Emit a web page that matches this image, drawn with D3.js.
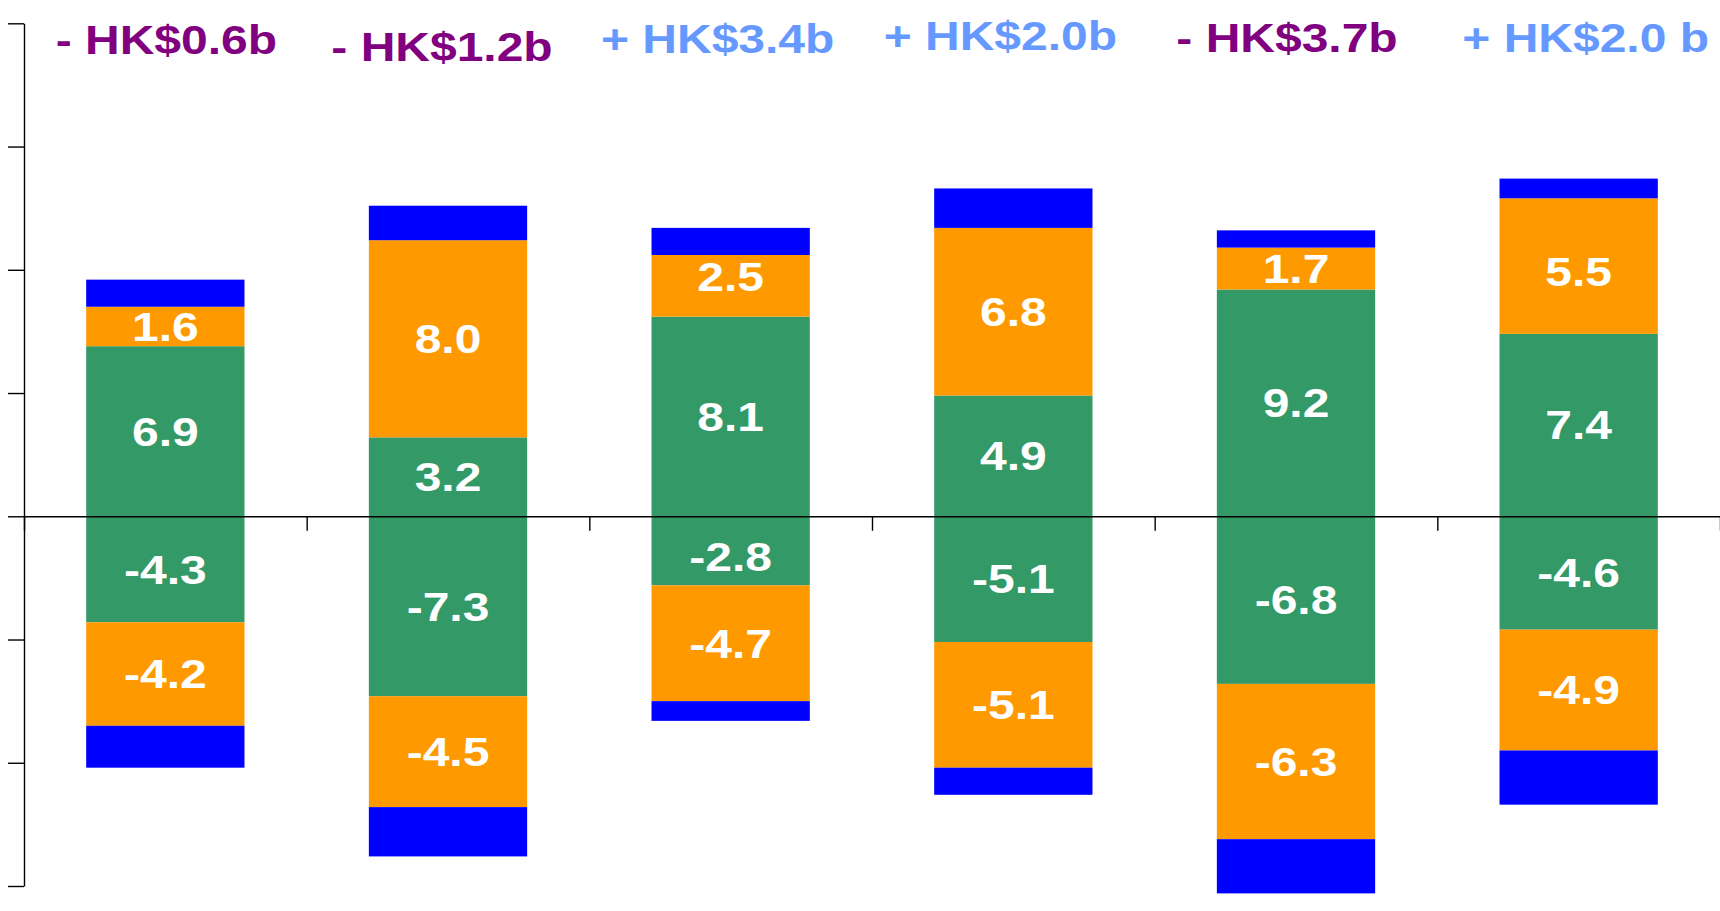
<!DOCTYPE html>
<html>
<head>
<meta charset="utf-8">
<script src="https://cdn.jsdelivr.net/npm/d3@7"></script>
<style>
  html, body { margin: 0; padding: 0; background: #ffffff; }
  svg { display: block; }
  text { font-family: "Liberation Sans", Arial, sans-serif; font-weight: bold; }
</style>
</head>
<body>
<svg id="chart" width="1720" height="911"></svg>
<script>
// ---- data ----
const categories = ["P1", "P2", "P3", "P4", "P5", "P6"];
const greenPos  = [6.9, 3.2, 8.1, 4.9, 9.2, 7.4];
const orangePos = [1.6, 8.0, 2.5, 6.8, 1.7, 5.5];
const bluePos   = [1.1, 1.4, 1.1, 1.6, 0.7, 0.8];
const greenNeg  = [-4.3, -7.3, -2.8, -5.1, -6.8, -4.6];
const orangeNeg = [-4.2, -4.5, -4.7, -5.1, -6.3, -4.9];
const blueNeg   = [-1.7, -2.0, -0.8, -1.1, -2.2, -2.2];
const netLabels = ["- HK$0.6b", "- HK$1.2b", "+ HK$3.4b", "+ HK$2.0b", "- HK$3.7b", "+ HK$2.0 b"];
const netSign   = [-1, -1, 1, 1, -1, 1];
const yTicks    = [-15, -10, -5, 0, 5, 10, 15, 20];

// ---- layout ----
const W = 1720, H = 911;
const plotLeft = 24, plotRight = 1720, plotTop = 23.3, plotBottom = 886;
const labelNudgeX = [1, -6, -13, -13, -9, 7];
const labelBaseline = [54, 61, 53, 50, 52, 52];
// small vertical nudges of segment labels (px), keyed by series key and bar index
const segLabelNudge = { oPos: { 2: -9, 5: 6 }, gNeg: { 2: 6 } };
const colors = { green: "#339966", orange: "#FF9900", blue: "#0000FF" };
const netColors = { neg: "#800080", pos: "#6699FF" };
const stretch = 1.2;

const svg = d3.select("#chart");

const y = d3.scaleLinear().domain([-15, 20]).range([plotBottom, plotTop]);
const x = d3.scaleBand().domain(categories).range([plotLeft, plotRight])
  .paddingInner(0.44).paddingOuter(0.22);
const xEdge = d3.scaleLinear().domain([0, categories.length]).range([plotLeft, plotRight]);

// build table for stack
const rows = categories.map((c, i) => ({
  cat: c, idx: i,
  gPos: greenPos[i], gNeg: greenNeg[i],
  oPos: orangePos[i], oNeg: orangeNeg[i],
  bPos: bluePos[i], bNeg: blueNeg[i]
}));
const keys = ["gPos", "gNeg", "oPos", "oNeg", "bPos", "bNeg"];
const keyColor = { gPos: colors.green, gNeg: colors.green, oPos: colors.orange, oNeg: colors.orange, bPos: colors.blue, bNeg: colors.blue };
const labelled = { gPos: true, gNeg: true, oPos: true, oNeg: true };

const stack = d3.stack().keys(keys).offset(d3.stackOffsetDiverging);
const series = stack(rows);

const gBars = svg.append("g");
series.forEach(s => {
  gBars.selectAll(null).data(s).enter().append("rect")
    .attr("x", d => x(d.data.cat))
    .attr("width", x.bandwidth())
    .attr("y", d => y(Math.max(d[0], d[1])))
    .attr("height", d => Math.abs(y(d[0]) - y(d[1])))
    .attr("fill", keyColor[s.key]);
});

// segment labels
series.forEach(s => {
  if (!labelled[s.key]) return;
  const nudge = segLabelNudge[s.key] || {};
  gBars.selectAll(null).data(s).enter().append("text")
    .attr("transform", d => {
      const cx = x(d.data.cat) + x.bandwidth() / 2;
      const cy = (y(d[0]) + y(d[1])) / 2 + 40 * 0.358 + (nudge[d.data.idx] || 0);
      return `translate(${cx},${cy}) scale(${stretch},1)`;
    })
    .attr("text-anchor", "middle")
    .attr("font-size", 40)
    .attr("fill", "#ffffff")
    .text(d => d.data[s.key].toFixed(1));
});

// axes
const yAxis = d3.axisLeft(y).tickValues(yTicks).tickFormat("").tickSize(16).tickSizeOuter(0);
const gy = svg.append("g").attr("transform", `translate(${plotLeft},0)`).call(yAxis);

const xAxis = d3.axisBottom(xEdge).tickValues(d3.range(categories.length + 1)).tickFormat("").tickSize(14.5).tickSizeOuter(0);
const gx = svg.append("g").attr("transform", `translate(0,${y(0)})`).call(xAxis);

[gy, gx].forEach(g => {
  g.selectAll("path, line").attr("stroke", "#000").attr("stroke-width", 1.4);
});

// net labels
svg.append("g").selectAll("text").data(netLabels).enter().append("text")
  .attr("transform", (d, i) => `translate(${x(categories[i]) + x.bandwidth() / 2 + labelNudgeX[i]},${labelBaseline[i]}) scale(${stretch},1)`)
  .attr("text-anchor", "middle")
  .attr("font-size", 40)
  .attr("fill", (d, i) => netSign[i] < 0 ? netColors.neg : netColors.pos)
  .text(d => d);
</script>
</body>
</html>
